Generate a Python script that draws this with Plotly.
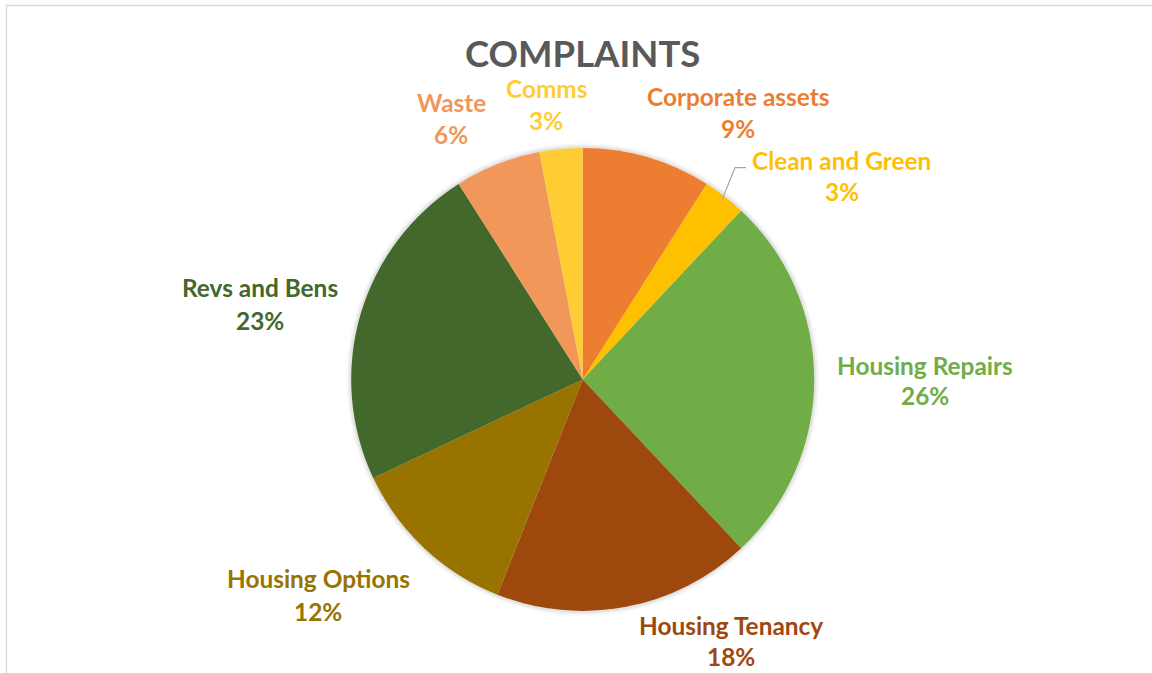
import math
import plotly.graph_objects as go

# ---- data ----
categories = ["Corporate assets", "Clean and Green", "Housing Repairs", "Housing Tenancy",
              "Housing Options", "Revs and Bens", "Waste", "Comms"]
values = [9, 3, 26, 18, 12, 23, 6, 3]
colors = ["#ED7D31", "#FFC000", "#70AD47", "#9E480E", "#997300", "#43682B", "#F1975A", "#FFCD33"]
title_text = "COMPLAINTS"

# ---- layout geometry (pixels) ----
W, H = 1152, 673
CX, CY, R = 582.7, 379.4, 231.5
FONT = "Lato, 'Open Sans', sans-serif"
LABEL_SIZE = 24.4

# label anchor positions: (centre x, name line y, percent line y) in pixels
label_pos = {
    "Corporate assets": (737.7, 96.3, 128.0),
    "Clean and Green": (841.7, 160.0, 191.0),
    "Housing Repairs": (924.5, 365.0, 395.3),
    "Housing Tenancy": (730.7, 625.5, 656.5),
    "Housing Options": (318.0, 578.7, 611.0),
    "Revs and Bens": (260.0, 287.0, 320.0),
    "Waste": (451.0, 102.0, 134.5),
    "Comms": (546.0, 88.5, 120.5),
}


def px(x):
    return x / W


def py(y):
    return 1 - y / H


def domain(r):
    return dict(x=[px(CX - r), px(CX + r)], y=[py(CY + r), py(CY - r)])


fig = go.Figure()

# soft shadow glow behind the pie
for k, a in [(5.0, 0.025), (3.5, 0.035), (2.0, 0.05)]:
    fig.add_trace(go.Pie(values=[1], marker=dict(colors=[f"rgba(0,0,0,{a})"], line=dict(width=0)),
                         domain=domain(R + k), textinfo="none", hoverinfo="skip",
                         showlegend=False, sort=False))

fig.add_trace(go.Pie(
    labels=categories, values=values, sort=False, direction="clockwise", rotation=0,
    marker=dict(colors=colors, line=dict(width=0)),
    textinfo="none", domain=domain(R), showlegend=False,
))

total = sum(values)
annotations = [dict(text=title_text, x=px(CX), y=py(53.3), xref="paper", yref="paper",
                    xanchor="center", yanchor="middle", showarrow=False,
                    font=dict(family=FONT, size=36.5, color="#595959", weight="bold"))]
shapes = []
cum = 0
for cat, v, c in zip(categories, values, colors):
    pct = round(v / total * 100)
    lx, ly1, ly2 = label_pos[cat]
    annotations.append(dict(text=cat, x=px(lx), y=py(ly1), xref="paper", yref="paper",
                            xanchor="center", yanchor="middle", showarrow=False,
                            font=dict(family=FONT, size=LABEL_SIZE, color=c, weight="bold")))
    annotations.append(dict(text=f"{pct}%", x=px(lx), y=py(ly2), xref="paper", yref="paper",
                            xanchor="center", yanchor="middle", showarrow=False,
                            font=dict(family=FONT, size=LABEL_SIZE, color=c, weight="bold")))
    mid = (cum + v / 2) / total * 2 * math.pi
    cum += v
    if cat == "Clean and Green":
        sx = CX + (R - 4) * math.sin(mid)
        sy = CY - (R - 4) * math.cos(mid)
        bx, by = 735.0, 167.7
        ex = 746.0
        shapes.append(dict(type="path", xref="paper", yref="paper",
                           path=f"M {px(sx)} {py(sy)} L {px(bx)} {py(by)} L {px(ex)} {py(by)}",
                           line=dict(color="#A6A6A6", width=1.2)))

# chart area border (extends beyond visible window on right/bottom)
shapes.append(dict(type="rect", xref="paper", yref="paper",
                   x0=px(6.5), x1=px(W + 20), y0=py(H + 20), y1=py(5.5),
                   line=dict(color="#D9D9D9", width=1.3), fillcolor="rgba(0,0,0,0)"))

fig.update_layout(
    width=W, height=H, margin=dict(l=0, r=0, t=0, b=0),
    paper_bgcolor="white", plot_bgcolor="white",
    annotations=annotations, shapes=shapes,
)

fig.write_html("out.html", config={"displayModeBar": False},
               post_script="document.body.style.margin='0';document.body.style.overflow='hidden';")
